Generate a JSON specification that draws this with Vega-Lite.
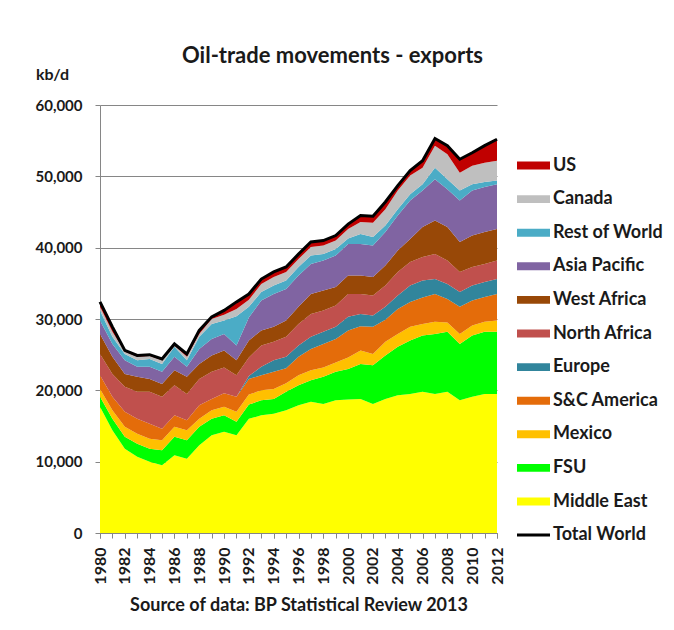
{
"$schema": "https://vega.github.io/schema/vega-lite/v6.json",
"width": 397, "height": 428,
"autosize": "none",
"padding": {"left": 100, "top": 105, "right": 177, "bottom": 97},
"background": "white",
"config": {"font": "Lato", "view": {"stroke": null}},
"title": {"text": "Oil-trade movements - exports", "frame": "group", "anchor": "middle", "dx": 34, "offset": -19, "baseline": "alphabetic", "fontSize": 22, "fontWeight": "bold", "font": "Lato", "color": "#1a1a1a"},
"resolve": {"axis": {"x": "independent"}},
"datasets": {
"regions": [
{"year":1980,"region":"Middle East","kbd":17700},{"year":1980,"region":"FSU","kbd":1400},{"year":1980,"region":"Mexico","kbd":1100},{"year":1980,"region":"S&C America","kbd":1900},{"year":1980,"region":"Europe","kbd":0},{"year":1980,"region":"North Africa","kbd":3000},{"year":1980,"region":"West Africa","kbd":2800},{"year":1980,"region":"Asia Pacific","kbd":1900},{"year":1980,"region":"Rest of World","kbd":1400},{"year":1980,"region":"Canada","kbd":500},{"year":1980,"region":"US","kbd":700},
{"year":1981,"region":"Middle East","kbd":14400},{"year":1981,"region":"FSU","kbd":1600},{"year":1981,"region":"Mexico","kbd":1200},{"year":1981,"region":"S&C America","kbd":1900},{"year":1981,"region":"Europe","kbd":0},{"year":1981,"region":"North Africa","kbd":3200},{"year":1981,"region":"West Africa","kbd":2400},{"year":1981,"region":"Asia Pacific","kbd":1800},{"year":1981,"region":"Rest of World","kbd":1000},{"year":1981,"region":"Canada","kbd":700},{"year":1981,"region":"US","kbd":700},
{"year":1982,"region":"Middle East","kbd":11800},{"year":1982,"region":"FSU","kbd":1700},{"year":1982,"region":"Mexico","kbd":1400},{"year":1982,"region":"S&C America","kbd":2100},{"year":1982,"region":"Europe","kbd":0},{"year":1982,"region":"North Africa","kbd":3500},{"year":1982,"region":"West Africa","kbd":1800},{"year":1982,"region":"Asia Pacific","kbd":1900},{"year":1982,"region":"Rest of World","kbd":900},{"year":1982,"region":"Canada","kbd":300},{"year":1982,"region":"US","kbd":200},
{"year":1983,"region":"Middle East","kbd":10700},{"year":1983,"region":"FSU","kbd":1800},{"year":1983,"region":"Mexico","kbd":1400},{"year":1983,"region":"S&C America","kbd":2100},{"year":1983,"region":"Europe","kbd":0},{"year":1983,"region":"North Africa","kbd":3800},{"year":1983,"region":"West Africa","kbd":2100},{"year":1983,"region":"Asia Pacific","kbd":1400},{"year":1983,"region":"Rest of World","kbd":900},{"year":1983,"region":"Canada","kbd":500},{"year":1983,"region":"US","kbd":200},
{"year":1984,"region":"Middle East","kbd":10000},{"year":1984,"region":"FSU","kbd":1800},{"year":1984,"region":"Mexico","kbd":1400},{"year":1984,"region":"S&C America","kbd":2100},{"year":1984,"region":"Europe","kbd":0},{"year":1984,"region":"North Africa","kbd":4500},{"year":1984,"region":"West Africa","kbd":1800},{"year":1984,"region":"Asia Pacific","kbd":1700},{"year":1984,"region":"Rest of World","kbd":1100},{"year":1984,"region":"Canada","kbd":400},{"year":1984,"region":"US","kbd":200},
{"year":1985,"region":"Middle East","kbd":9500},{"year":1985,"region":"FSU","kbd":2100},{"year":1985,"region":"Mexico","kbd":1400},{"year":1985,"region":"S&C America","kbd":1600},{"year":1985,"region":"Europe","kbd":0},{"year":1985,"region":"North Africa","kbd":4500},{"year":1985,"region":"West Africa","kbd":1800},{"year":1985,"region":"Asia Pacific","kbd":1700},{"year":1985,"region":"Rest of World","kbd":1100},{"year":1985,"region":"Canada","kbd":500},{"year":1985,"region":"US","kbd":200},
{"year":1986,"region":"Middle East","kbd":10900},{"year":1986,"region":"FSU","kbd":2600},{"year":1986,"region":"Mexico","kbd":1400},{"year":1986,"region":"S&C America","kbd":1600},{"year":1986,"region":"Europe","kbd":0},{"year":1986,"region":"North Africa","kbd":4200},{"year":1986,"region":"West Africa","kbd":2100},{"year":1986,"region":"Asia Pacific","kbd":1900},{"year":1986,"region":"Rest of World","kbd":1400},{"year":1986,"region":"Canada","kbd":200},{"year":1986,"region":"US","kbd":200},
{"year":1987,"region":"Middle East","kbd":10400},{"year":1987,"region":"FSU","kbd":2600},{"year":1987,"region":"Mexico","kbd":1400},{"year":1987,"region":"S&C America","kbd":1400},{"year":1987,"region":"Europe","kbd":0},{"year":1987,"region":"North Africa","kbd":3700},{"year":1987,"region":"West Africa","kbd":2400},{"year":1987,"region":"Asia Pacific","kbd":1400},{"year":1987,"region":"Rest of World","kbd":900},{"year":1987,"region":"Canada","kbd":500},{"year":1987,"region":"US","kbd":400},
{"year":1988,"region":"Middle East","kbd":12300},{"year":1988,"region":"FSU","kbd":2600},{"year":1988,"region":"Mexico","kbd":1100},{"year":1988,"region":"S&C America","kbd":1900},{"year":1988,"region":"Europe","kbd":0},{"year":1988,"region":"North Africa","kbd":3700},{"year":1988,"region":"West Africa","kbd":2100},{"year":1988,"region":"Asia Pacific","kbd":2100},{"year":1988,"region":"Rest of World","kbd":1700},{"year":1988,"region":"Canada","kbd":400},{"year":1988,"region":"US","kbd":500},
{"year":1989,"region":"Middle East","kbd":13700},{"year":1989,"region":"FSU","kbd":2300},{"year":1989,"region":"Mexico","kbd":1200},{"year":1989,"region":"S&C America","kbd":1600},{"year":1989,"region":"Europe","kbd":0},{"year":1989,"region":"North Africa","kbd":3800},{"year":1989,"region":"West Africa","kbd":2300},{"year":1989,"region":"Asia Pacific","kbd":2300},{"year":1989,"region":"Rest of World","kbd":2100},{"year":1989,"region":"Canada","kbd":700},{"year":1989,"region":"US","kbd":300},
{"year":1990,"region":"Middle East","kbd":14200},{"year":1990,"region":"FSU","kbd":2300},{"year":1990,"region":"Mexico","kbd":1200},{"year":1990,"region":"S&C America","kbd":1900},{"year":1990,"region":"Europe","kbd":0},{"year":1990,"region":"North Africa","kbd":3600},{"year":1990,"region":"West Africa","kbd":2400},{"year":1990,"region":"Asia Pacific","kbd":2300},{"year":1990,"region":"Rest of World","kbd":1900},{"year":1990,"region":"Canada","kbd":800},{"year":1990,"region":"US","kbd":600},
{"year":1991,"region":"Middle East","kbd":13700},{"year":1991,"region":"FSU","kbd":1900},{"year":1991,"region":"Mexico","kbd":1400},{"year":1991,"region":"S&C America","kbd":2100},{"year":1991,"region":"Europe","kbd":0},{"year":1991,"region":"North Africa","kbd":3000},{"year":1991,"region":"West Africa","kbd":2100},{"year":1991,"region":"Asia Pacific","kbd":2100},{"year":1991,"region":"Rest of World","kbd":4100},{"year":1991,"region":"Canada","kbd":1000},{"year":1991,"region":"US","kbd":1000},
{"year":1992,"region":"Middle East","kbd":16000},{"year":1992,"region":"FSU","kbd":2000},{"year":1992,"region":"Mexico","kbd":1400},{"year":1992,"region":"S&C America","kbd":2200},{"year":1992,"region":"Europe","kbd":400},{"year":1992,"region":"North Africa","kbd":2600},{"year":1992,"region":"West Africa","kbd":2400},{"year":1992,"region":"Asia Pacific","kbd":3200},{"year":1992,"region":"Rest of World","kbd":1500},{"year":1992,"region":"Canada","kbd":1000},{"year":1992,"region":"US","kbd":800},
{"year":1993,"region":"Middle East","kbd":16500},{"year":1993,"region":"FSU","kbd":2100},{"year":1993,"region":"Mexico","kbd":1400},{"year":1993,"region":"S&C America","kbd":2100},{"year":1993,"region":"Europe","kbd":1200},{"year":1993,"region":"North Africa","kbd":3000},{"year":1993,"region":"West Africa","kbd":2100},{"year":1993,"region":"Asia Pacific","kbd":4200},{"year":1993,"region":"Rest of World","kbd":1200},{"year":1993,"region":"Canada","kbd":1100},{"year":1993,"region":"US","kbd":700},
{"year":1994,"region":"Middle East","kbd":16700},{"year":1994,"region":"FSU","kbd":2100},{"year":1994,"region":"Mexico","kbd":1400},{"year":1994,"region":"S&C America","kbd":2400},{"year":1994,"region":"Europe","kbd":1600},{"year":1994,"region":"North Africa","kbd":2600},{"year":1994,"region":"West Africa","kbd":2100},{"year":1994,"region":"Asia Pacific","kbd":4600},{"year":1994,"region":"Rest of World","kbd":1200},{"year":1994,"region":"Canada","kbd":1200},{"year":1994,"region":"US","kbd":700},
{"year":1995,"region":"Middle East","kbd":17200},{"year":1995,"region":"FSU","kbd":2600},{"year":1995,"region":"Mexico","kbd":1200},{"year":1995,"region":"S&C America","kbd":2100},{"year":1995,"region":"Europe","kbd":1600},{"year":1995,"region":"North Africa","kbd":2800},{"year":1995,"region":"West Africa","kbd":2300},{"year":1995,"region":"Asia Pacific","kbd":4400},{"year":1995,"region":"Rest of World","kbd":1200},{"year":1995,"region":"Canada","kbd":1200},{"year":1995,"region":"US","kbd":700},
{"year":1996,"region":"Middle East","kbd":17900},{"year":1996,"region":"FSU","kbd":2800},{"year":1996,"region":"Mexico","kbd":1400},{"year":1996,"region":"S&C America","kbd":2600},{"year":1996,"region":"Europe","kbd":1600},{"year":1996,"region":"North Africa","kbd":3000},{"year":1996,"region":"West Africa","kbd":2400},{"year":1996,"region":"Asia Pacific","kbd":4400},{"year":1996,"region":"Rest of World","kbd":1200},{"year":1996,"region":"Canada","kbd":1100},{"year":1996,"region":"US","kbd":700},
{"year":1997,"region":"Middle East","kbd":18400},{"year":1997,"region":"FSU","kbd":3000},{"year":1997,"region":"Mexico","kbd":1400},{"year":1997,"region":"S&C America","kbd":3000},{"year":1997,"region":"Europe","kbd":1700},{"year":1997,"region":"North Africa","kbd":3200},{"year":1997,"region":"West Africa","kbd":2800},{"year":1997,"region":"Asia Pacific","kbd":4200},{"year":1997,"region":"Rest of World","kbd":1200},{"year":1997,"region":"Canada","kbd":1200},{"year":1997,"region":"US","kbd":700},
{"year":1998,"region":"Middle East","kbd":18100},{"year":1998,"region":"FSU","kbd":3800},{"year":1998,"region":"Mexico","kbd":1300},{"year":1998,"region":"S&C America","kbd":3300},{"year":1998,"region":"Europe","kbd":1700},{"year":1998,"region":"North Africa","kbd":3000},{"year":1998,"region":"West Africa","kbd":2800},{"year":1998,"region":"Asia Pacific","kbd":4200},{"year":1998,"region":"Rest of World","kbd":900},{"year":1998,"region":"Canada","kbd":1200},{"year":1998,"region":"US","kbd":700},
{"year":1999,"region":"Middle East","kbd":18600},{"year":1999,"region":"FSU","kbd":4000},{"year":1999,"region":"Mexico","kbd":1300},{"year":1999,"region":"S&C America","kbd":3300},{"year":1999,"region":"Europe","kbd":1700},{"year":1999,"region":"North Africa","kbd":3000},{"year":1999,"region":"West Africa","kbd":2600},{"year":1999,"region":"Asia Pacific","kbd":4400},{"year":1999,"region":"Rest of World","kbd":900},{"year":1999,"region":"Canada","kbd":1200},{"year":1999,"region":"US","kbd":700},
{"year":2000,"region":"Middle East","kbd":18700},{"year":2000,"region":"FSU","kbd":4300},{"year":2000,"region":"Mexico","kbd":1600},{"year":2000,"region":"S&C America","kbd":3800},{"year":2000,"region":"Europe","kbd":1900},{"year":2000,"region":"North Africa","kbd":3200},{"year":2000,"region":"West Africa","kbd":2600},{"year":2000,"region":"Asia Pacific","kbd":4400},{"year":2000,"region":"Rest of World","kbd":800},{"year":2000,"region":"Canada","kbd":1300},{"year":2000,"region":"US","kbd":700},
{"year":2001,"region":"Middle East","kbd":18800},{"year":2001,"region":"FSU","kbd":4900},{"year":2001,"region":"Mexico","kbd":1900},{"year":2001,"region":"S&C America","kbd":3400},{"year":2001,"region":"Europe","kbd":1700},{"year":2001,"region":"North Africa","kbd":2800},{"year":2001,"region":"West Africa","kbd":2600},{"year":2001,"region":"Asia Pacific","kbd":4400},{"year":2001,"region":"Rest of World","kbd":1400},{"year":2001,"region":"Canada","kbd":1700},{"year":2001,"region":"US","kbd":900},
{"year":2002,"region":"Middle East","kbd":18100},{"year":2002,"region":"FSU","kbd":5400},{"year":2002,"region":"Mexico","kbd":1600},{"year":2002,"region":"S&C America","kbd":3800},{"year":2002,"region":"Europe","kbd":1600},{"year":2002,"region":"North Africa","kbd":2800},{"year":2002,"region":"West Africa","kbd":2600},{"year":2002,"region":"Asia Pacific","kbd":4400},{"year":2002,"region":"Rest of World","kbd":1200},{"year":2002,"region":"Canada","kbd":2000},{"year":2002,"region":"US","kbd":900},
{"year":2003,"region":"Middle East","kbd":18800},{"year":2003,"region":"FSU","kbd":6100},{"year":2003,"region":"Mexico","kbd":1900},{"year":2003,"region":"S&C America","kbd":3100},{"year":2003,"region":"Europe","kbd":1800},{"year":2003,"region":"North Africa","kbd":3000},{"year":2003,"region":"West Africa","kbd":2800},{"year":2003,"region":"Asia Pacific","kbd":4700},{"year":2003,"region":"Rest of World","kbd":900},{"year":2003,"region":"Canada","kbd":2300},{"year":2003,"region":"US","kbd":1000},
{"year":2004,"region":"Middle East","kbd":19300},{"year":2004,"region":"FSU","kbd":6800},{"year":2004,"region":"Mexico","kbd":1800},{"year":2004,"region":"S&C America","kbd":3500},{"year":2004,"region":"Europe","kbd":1900},{"year":2004,"region":"North Africa","kbd":3300},{"year":2004,"region":"West Africa","kbd":3000},{"year":2004,"region":"Asia Pacific","kbd":4900},{"year":2004,"region":"Rest of World","kbd":900},{"year":2004,"region":"Canada","kbd":2600},{"year":2004,"region":"US","kbd":700},
{"year":2005,"region":"Middle East","kbd":19500},{"year":2005,"region":"FSU","kbd":7500},{"year":2005,"region":"Mexico","kbd":1900},{"year":2005,"region":"S&C America","kbd":3500},{"year":2005,"region":"Europe","kbd":2300},{"year":2005,"region":"North Africa","kbd":3300},{"year":2005,"region":"West Africa","kbd":3200},{"year":2005,"region":"Asia Pacific","kbd":5400},{"year":2005,"region":"Rest of World","kbd":900},{"year":2005,"region":"Canada","kbd":2600},{"year":2005,"region":"US","kbd":700},
{"year":2006,"region":"Middle East","kbd":19800},{"year":2006,"region":"FSU","kbd":7900},{"year":2006,"region":"Mexico","kbd":1600},{"year":2006,"region":"S&C America","kbd":3700},{"year":2006,"region":"Europe","kbd":2400},{"year":2006,"region":"North Africa","kbd":3300},{"year":2006,"region":"West Africa","kbd":4200},{"year":2006,"region":"Asia Pacific","kbd":5100},{"year":2006,"region":"Rest of World","kbd":900},{"year":2006,"region":"Canada","kbd":2300},{"year":2006,"region":"US","kbd":1000},
{"year":2007,"region":"Middle East","kbd":19500},{"year":2007,"region":"FSU","kbd":8400},{"year":2007,"region":"Mexico","kbd":1700},{"year":2007,"region":"S&C America","kbd":3900},{"year":2007,"region":"Europe","kbd":2100},{"year":2007,"region":"North Africa","kbd":3500},{"year":2007,"region":"West Africa","kbd":4700},{"year":2007,"region":"Asia Pacific","kbd":5800},{"year":2007,"region":"Rest of World","kbd":1600},{"year":2007,"region":"Canada","kbd":3100},{"year":2007,"region":"US","kbd":1000},
{"year":2008,"region":"Middle East","kbd":19800},{"year":2008,"region":"FSU","kbd":8400},{"year":2008,"region":"Mexico","kbd":1300},{"year":2008,"region":"S&C America","kbd":3300},{"year":2008,"region":"Europe","kbd":2100},{"year":2008,"region":"North Africa","kbd":3300},{"year":2008,"region":"West Africa","kbd":4700},{"year":2008,"region":"Asia Pacific","kbd":5300},{"year":2008,"region":"Rest of World","kbd":1400},{"year":2008,"region":"Canada","kbd":3500},{"year":2008,"region":"US","kbd":1200},
{"year":2009,"region":"Middle East","kbd":18600},{"year":2009,"region":"FSU","kbd":7900},{"year":2009,"region":"Mexico","kbd":1400},{"year":2009,"region":"S&C America","kbd":3800},{"year":2009,"region":"Europe","kbd":2100},{"year":2009,"region":"North Africa","kbd":2800},{"year":2009,"region":"West Africa","kbd":4200},{"year":2009,"region":"Asia Pacific","kbd":5800},{"year":2009,"region":"Rest of World","kbd":1400},{"year":2009,"region":"Canada","kbd":2500},{"year":2009,"region":"US","kbd":1900},
{"year":2010,"region":"Middle East","kbd":19100},{"year":2010,"region":"FSU","kbd":8600},{"year":2010,"region":"Mexico","kbd":1400},{"year":2010,"region":"S&C America","kbd":3500},{"year":2010,"region":"Europe","kbd":2100},{"year":2010,"region":"North Africa","kbd":2600},{"year":2010,"region":"West Africa","kbd":4400},{"year":2010,"region":"Asia Pacific","kbd":6300},{"year":2010,"region":"Rest of World","kbd":900},{"year":2010,"region":"Canada","kbd":2600},{"year":2010,"region":"US","kbd":1800},
{"year":2011,"region":"Middle East","kbd":19500},{"year":2011,"region":"FSU","kbd":8700},{"year":2011,"region":"Mexico","kbd":1400},{"year":2011,"region":"S&C America","kbd":3500},{"year":2011,"region":"Europe","kbd":2100},{"year":2011,"region":"North Africa","kbd":2500},{"year":2011,"region":"West Africa","kbd":4500},{"year":2011,"region":"Asia Pacific","kbd":6300},{"year":2011,"region":"Rest of World","kbd":700},{"year":2011,"region":"Canada","kbd":2700},{"year":2011,"region":"US","kbd":2400},
{"year":2012,"region":"Middle East","kbd":19500},{"year":2012,"region":"FSU","kbd":8700},{"year":2012,"region":"Mexico","kbd":1600},{"year":2012,"region":"S&C America","kbd":3700},{"year":2012,"region":"Europe","kbd":2100},{"year":2012,"region":"North Africa","kbd":2600},{"year":2012,"region":"West Africa","kbd":4400},{"year":2012,"region":"Asia Pacific","kbd":6300},{"year":2012,"region":"Rest of World","kbd":500},{"year":2012,"region":"Canada","kbd":2800},{"year":2012,"region":"US","kbd":3000}
],
"total": [
{"year":1980,"kbd":32400},{"year":1981,"kbd":28900},{"year":1982,"kbd":25600},{"year":1983,"kbd":24900},{"year":1984,"kbd":25000},{"year":1985,"kbd":24400},{"year":1986,"kbd":26500},{"year":1987,"kbd":25100},{"year":1988,"kbd":28400},{"year":1989,"kbd":30300},{"year":1990,"kbd":31200},{"year":1991,"kbd":32400},{"year":1992,"kbd":33500},{"year":1993,"kbd":35600},{"year":1994,"kbd":36600},{"year":1995,"kbd":37300},{"year":1996,"kbd":39100},{"year":1997,"kbd":40800},{"year":1998,"kbd":41000},{"year":1999,"kbd":41700},{"year":2000,"kbd":43300},{"year":2001,"kbd":44500},{"year":2002,"kbd":44400},{"year":2003,"kbd":46400},{"year":2004,"kbd":48700},{"year":2005,"kbd":50800},{"year":2006,"kbd":52200},{"year":2007,"kbd":55300},{"year":2008,"kbd":54300},{"year":2009,"kbd":52400},{"year":2010,"kbd":53300},{"year":2011,"kbd":54300},{"year":2012,"kbd":55200}
]
},
"layer": [
{
"data": {"name": "regions"},
"transform": [{"calculate": "indexof(['Middle East','FSU','Mexico','S&C America','Europe','North Africa','West Africa','Asia Pacific','Rest of World','Canada','US'], datum.region)", "as": "stackOrder"}],
"mark": {"type": "area", "interpolate": "linear"},
"encoding": {
"x": {"field": "year", "type": "quantitative", "title": "Source of data: BP Statistical Review 2013",
 "scale": {"domain": [1980, 2012], "nice": false, "zero": false},
 "axis": {"orient": "bottom", "values": [1980,1982,1984,1986,1988,1990,1992,1994,1996,1998,2000,2002,2004,2006,2008,2010,2012],
  "format": "d", "labelAngle": 270, "labelFont": "Lato", "labelFontWeight": "bold", "labelFontSize": 16,
  "labelColor": "#1a1a1a", "labelOverlap": false, "labelFlush": false, "labelPadding": 9,
  "tickSize": 5, "tickColor": "#868686", "domainColor": "#868686", "grid": false,
  "titleFont": "Lato", "titleFontSize": 18, "titleFontWeight": "bold", "titleColor": "#1a1a1a", "titleY": 77, "titleBaseline": "alphabetic"}},
"y": {"field": "kbd", "type": "quantitative", "stack": "zero", "title": "kb/d",
 "scale": {"domain": [0, 60000], "nice": false},
 "axis": {"values": [0,10000,20000,30000,40000,50000,60000], "format": ",.0f", "labelFont": "Lato", "labelFontWeight": "bold", "labelFontSize": 15, "labelColor": "#1a1a1a", "labelPadding": 13,
  "tickSize": 5, "tickColor": "#868686", "domainColor": "#868686", "gridColor": "#868686", "gridWidth": 1,
  "titleAngle": 0, "titleX": -48, "titleY": -26, "titleAlign": "center", "titleBaseline": "alphabetic", "titleFont": "Lato", "titleFontSize": 16, "titleFontWeight": "bold", "titleColor": "#1a1a1a"}},
"color": {"field": "region", "type": "nominal",
 "scale": {"domain": ["US","Canada","Rest of World","Asia Pacific","West Africa","North Africa","Europe","S&C America","Mexico","FSU","Middle East","Total World"],
  "range": ["#C00000","#BFBFBF","#4BACC6","#8064A2","#984807","#C0504D","#31859C","#E46C0A","#FFC000","#00FF00","#FFFF00","#000000"]},
 "legend": {"orient": "none", "legendX": 417, "legendY": 44, "title": null, "symbolType": "M-1,-0.24H1V0.24H-1Z", "symbolSize": 1089, "symbolStrokeWidth": 0, "labelFont": "Lato", "labelFontSize": 18, "labelFontWeight": "bold", "labelColor": "#1a1a1a", "labelOffset": 3, "rowPadding": 7.6,
  "encode": {"symbols": {"update": {"shape": [{"test": "datum.value === 'Total World'", "value": "M-1,-0.09H1V0.09H-1Z"}, {"value": "M-1,-0.24H1V0.24H-1Z"}]}}}}},
"order": {"field": "stackOrder", "type": "quantitative", "sort": "ascending"}
}
},
{
"data": {"name": "total"},
"mark": {"type": "line", "color": "black", "strokeWidth": 3},
"encoding": {
"x": {"field": "year", "type": "quantitative", "title": null,
 "axis": {"orient": "bottom", "values": [1980,1981,1982,1983,1984,1985,1986,1987,1988,1989,1990,1991,1992,1993,1994,1995,1996,1997,1998,1999,2000,2001,2002,2003,2004,2005,2006,2007,2008,2009,2010,2011,2012], "labels": false, "domain": false, "grid": false, "tickSize": 5, "tickColor": "#868686"}},
"y": {"field": "kbd", "type": "quantitative", "title": "kb/d"}
}
}
]
}
